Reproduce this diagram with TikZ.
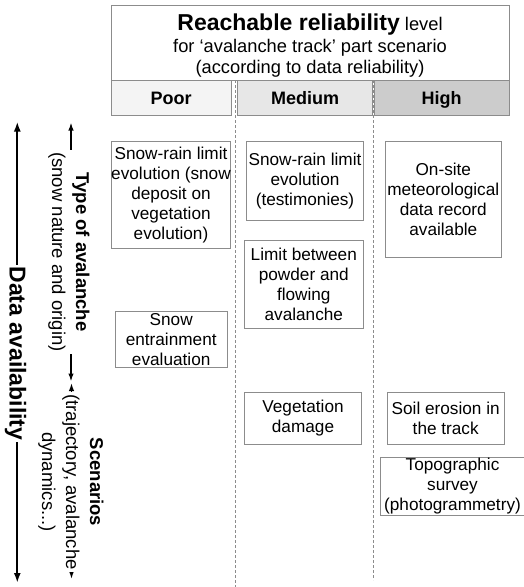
\documentclass[tikz,border=0pt]{standalone}
\usepackage{fontspec}
\setmainfont{Liberation Sans}
\usetikzlibrary{arrows.meta}
\definecolor{framegray}{gray}{0.55}
\definecolor{poorfill}{gray}{0.955}
\definecolor{mediumfill}{gray}{0.905}
\definecolor{highfill}{gray}{0.80}
\begin{document}
\begin{tikzpicture}[x=1pt,y=-1pt,
  frame/.style={draw=framegray, line width=0.9pt},
  cell/.style={frame, inner sep=0pt, align=center,
    font=\fontsize{17.2}{20}\selectfont},
  headcell/.style={frame, inner sep=0pt, minimum height=35},
  headtxt/.style={anchor=base, inner sep=0pt,
    font=\fontsize{18}{20}\selectfont\bfseries},
  titletxt/.style={anchor=base, inner sep=0pt,
    font=\fontsize{18.3}{20}\selectfont},
  colsep/.style={draw=black!45, line width=0.8pt, dash pattern=on 3pt off 2pt},
  axis/.style={line width=1.5pt,
    {Latex[length=8pt,width=5.5pt]}-{Latex[length=8pt,width=5.5pt]}},
  bigaxis/.style={line width=2pt,
    {Latex[length=10pt,width=7pt]}-{Latex[length=10pt,width=7pt]}},
  sidelabel/.style={rotate=-90, fill=white, inner sep=2pt, align=center,
    font=\fontsize{18.5}{24}\selectfont},
]
\useasboundingbox (0,0) rectangle (523,587);

% title block
\node[frame, minimum width=398, minimum height=75, inner sep=0pt] (title) at (310,42.5) {};
\node[titletxt] (t1) at (310,30)
  {{\fontsize{23}{23}\selectfont\bfseries Reachable reliability} level};
\node[titletxt] (t2) at (310,52.7) {for ‘avalanche track’ part scenario};
\node[titletxt] (t3) at (310,73.2) {(according to data reliability)};

% reliability levels
\node[headcell, fill=poorfill, minimum width=120] (poor) at (171,97.5) {};
\node[headcell, fill=mediumfill, minimum width=135] (medium) at (305.2,97.5) {};
\node[headcell, fill=highfill, minimum width=135] (high) at (441.5,97.5) {};
\node[headtxt] (poortxt) at (171,104) {Poor};
\node[headtxt] (mediumtxt) at (305.2,104) {Medium};
\node[headtxt] (hightxt) at (441.5,104) {High};

% column separators
\coordinate (s1top) at (235,80);
\coordinate (s1bot) at (235,587);
\coordinate (s2top) at (373,80);
\coordinate (s2bot) at (373,580);
\draw[colsep] (s1top) -- (s1bot);
\draw[colsep] (s2top) -- (s2bot);

% poor column
\node[cell, minimum width=116.6, minimum height=106.6] (p1) at (171,195)
  {Snow-rain limit\\evolution (snow\\deposit on\\vegetation\\evolution)};
\node[cell, minimum width=112.3, minimum height=55.6] (p2) at (171.2,339.5)
  {Snow\\entrainment\\evaluation};

% medium column
\node[cell, minimum width=116.6, minimum height=79] (m1) at (305,181.2)
  {Snow-rain limit\\evolution\\(testimonies)};
\node[cell, minimum width=119, minimum height=88.3] (m2) at (303.8,284.2)
  {Limit between\\powder and\\flowing\\avalanche};
\node[cell, minimum width=117.4, minimum height=51.3] (m3) at (303,418.3)
  {Vegetation\\damage};

% high column
\node[cell, minimum width=116.7, minimum height=115.6] (h1) at (443.3,199.5)
  {On-site\\meteorological\\data record\\available};
\node[cell, minimum width=116.7, minimum height=51.3] (h2) at (445.7,418.3)
  {Soil erosion in\\the track};
\node[cell, minimum width=145, minimum height=57.7] (h3) at (452.5,486.2)
  {Topographic\\survey\\(photogrammetry)};

% data availability axis
\coordinate (da1) at (17.3,121.5);
\coordinate (da2) at (17.3,583);
\draw[bigaxis] (da1) -- (da2);
\node[rotate=-90, fill=white, inner sep=2pt,
  font=\fontsize{23}{23}\selectfont\bfseries] (dalab) at (15.5,353.5)
  {Data availability};

% avalanche type axis
\coordinate (ta1) at (71,122.5);
\coordinate (ta2) at (71,381.5);
\draw[axis] (ta1) -- (ta2);
\node[sidelabel] (talab) at (69,252)
  {\textbf{Type of avalanche}\\(snow nature and origin)};

% scenarios axis
\coordinate (sa1) at (71.5,383);
\coordinate (sa2) at (71.5,579);
\draw[axis] (sa1) -- (sa2);
\node[sidelabel] (salab) at (71,482)
  {\textbf{Scenarios}\\(trajectory, avalanche\\dynamics...)};
\end{tikzpicture}
\end{document}
